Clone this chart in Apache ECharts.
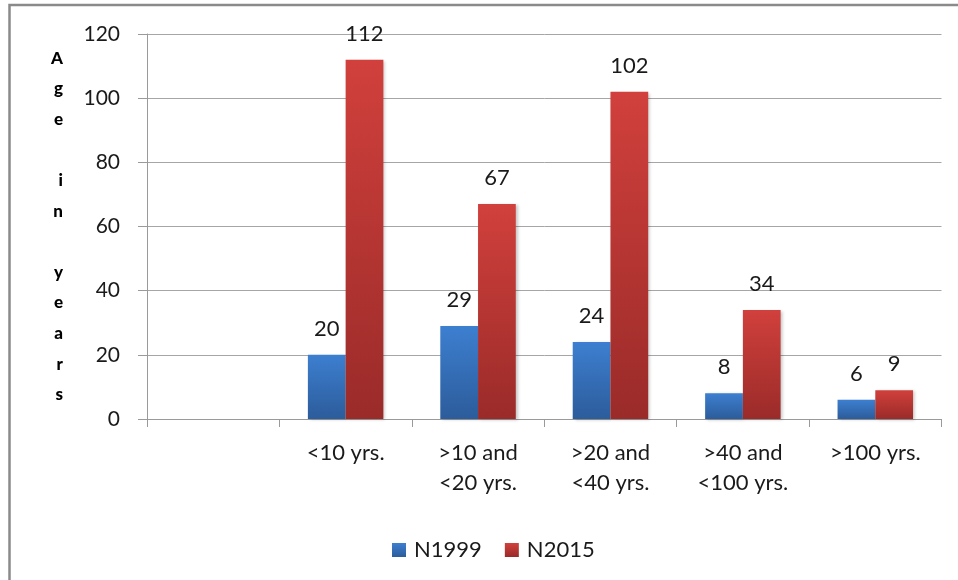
<!DOCTYPE html>
<html>
<head>
<meta charset="utf-8">
<script src="https://cdn.jsdelivr.net/npm/echarts@6/dist/echarts.min.js"></script>
<style>
  html, body { margin: 0; padding: 0; background: #ffffff; }
  #chart { width: 958px; height: 580px; }
</style>
</head>
<body>
<div id="chart"></div>
<script>
// Age groups (the first slot is left empty on purpose)
const categories = ['', '<10 yrs.', '>10 and\n<20 yrs.', '>20 and\n<40 yrs.', '>40 and\n<100 yrs.', '>100 yrs.'];
const n1999 = [null, 20, 29, 24, 8, 6];
const n2015 = [null, 112, 67, 102, 34, 9];
const yTicks = { min: 0, max: 120, interval: 20 };
const yTitle = 'A\ng\ne\n\ni\nn\n\ny\ne\na\nr\ns';

const FONT = 'Lato, "Open Sans", sans-serif';

function vGrad(top, bottom) {
  return new echarts.graphic.LinearGradient(0, 0, 0, 1, [
    { offset: 0, color: top },
    { offset: 1, color: bottom }
  ]);
}

const labelStyle = {
  show: true,
  position: 'top',
  distance: 15,
  fontFamily: FONT,
  fontSize: 22,
  color: '#1a1a1a'
};

const chart = echarts.init(document.getElementById('chart'), null, { renderer: 'canvas' });
chart.setOption({
  animation: false,
  backgroundColor: '#ffffff',
  graphic: [{
    type: 'rect',
    shape: { x: 9.5, y: 5, width: 1000, height: 700 },
    style: { fill: 'none', stroke: '#8a8a8a', lineWidth: 2.5 },
    silent: true
  }],
  grid: { left: 147, right: 16.5, top: 34, bottom: 161, containLabel: false },
  legend: {
    top: 534,
    left: 387,
    itemWidth: 14,
    itemHeight: 14,
    itemGap: 23,
    icon: 'rect',
    textStyle: { fontFamily: FONT, fontSize: 22, color: '#1a1a1a', padding: [0, 0, 0, 3] },
    data: ['N1999', 'N2015']
  },
  xAxis: {
    type: 'category',
    data: categories,
    axisLine: { lineStyle: { color: '#9a9a9a', width: 1 } },
    axisTick: { show: true, length: 8, alignWithLabel: false, lineStyle: { color: '#9a9a9a' } },
    axisLabel: {
      margin: 19,
      fontFamily: FONT,
      fontSize: 22,
      lineHeight: 30,
      color: '#1a1a1a',
      interval: 0
    },
    splitLine: { show: false }
  },
  yAxis: {
    type: 'value',
    min: yTicks.min,
    max: yTicks.max,
    interval: yTicks.interval,
    name: yTitle,
    nameLocation: 'middle',
    nameRotate: 0,
    nameGap: 84,
    nameTextStyle: {
      fontFamily: FONT,
      fontWeight: 900,
      fontSize: 17,
      lineHeight: 30.6,
      color: '#000000',
      padding: [32, 0, 0, 0]
    },
    axisLine: { show: true, lineStyle: { color: '#9a9a9a', width: 1 } },
    axisTick: { show: true, length: 9, lineStyle: { color: '#9a9a9a' } },
    axisLabel: {
      margin: 27,
      fontFamily: FONT,
      fontSize: 21,
      color: '#1a1a1a'
    },
    splitLine: { show: true, lineStyle: { color: '#a6a6a6', width: 1 } }
  },
  series: [
    {
      name: 'N1999',
      type: 'bar',
      data: n1999,
      barGap: '0%',
      barCategoryGap: '43%',
      itemStyle: {
        color: vGrad('#3d7fd0', '#2c5c9b'),
        shadowColor: 'rgba(0,0,0,0.22)',
        shadowBlur: 3,
        shadowOffsetX: 2,
        shadowOffsetY: 1
      },
      label: labelStyle
    },
    {
      name: 'N2015',
      type: 'bar',
      data: n2015,
      barGap: '0%',
      barCategoryGap: '43%',
      itemStyle: {
        color: vGrad('#d1403c', '#9a2b29'),
        shadowColor: 'rgba(0,0,0,0.22)',
        shadowBlur: 3,
        shadowOffsetX: 2,
        shadowOffsetY: 1
      },
      label: labelStyle
    }
  ]
});
</script>
</body>
</html>
